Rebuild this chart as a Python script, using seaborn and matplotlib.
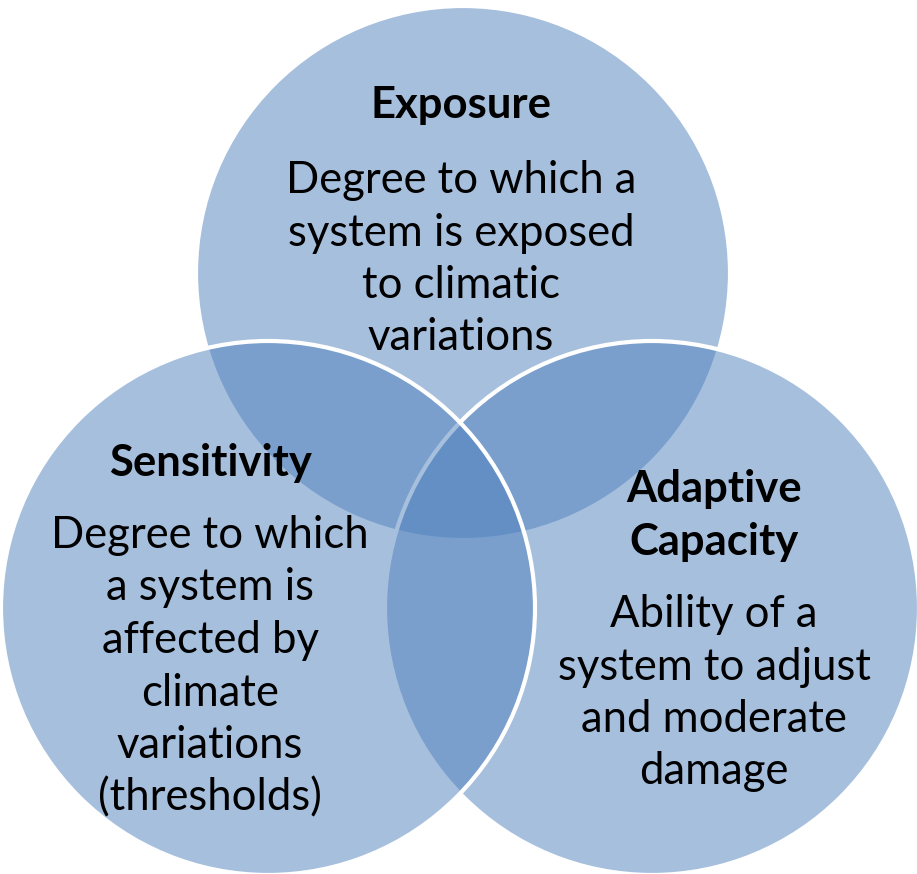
import matplotlib
matplotlib.use("Agg")
import matplotlib.pyplot as plt
from matplotlib.patches import Circle
import seaborn as sns

# Circle labels and descriptions (drawn top, right, left so the left edge sits on top)
titles = ["Exposure", "Adaptive\nCapacity", "Sensitivity"]
descriptions = [
    ["Degree to which a", "system is exposed", "to climatic", "variations"],
    ["Ability of a", "system to adjust", "and moderate", "damage"],
    ["Degree to which", "a system is", "affected by", "climate", "variations", "(thresholds)"],
]

centers = [(463, 273), (652, 608), (268, 608)]
radius = 267
title_baselines = [118, 502, 476]
body_baselines = [193, 627, 548]
text_x = [461, 714, 210]
line_step = 52.5

sns.set_theme(style="white")
plt.rcParams["font.family"] = ["Lato", "DejaVu Sans"]

fig = plt.figure(figsize=(9.17, 8.74), dpi=100)
ax = fig.add_axes([0, 0, 1, 1])
ax.set_xlim(0, 917)
ax.set_ylim(874, 0)
ax.axis("off")

fill = (79 / 255, 129 / 255, 189 / 255, 0.5)
for c in centers:
    ax.add_patch(Circle(c, radius, facecolor=fill, edgecolor="white", linewidth=3))

fs = 31.4
for i in range(3):
    for j, line in enumerate(titles[i].split("\n")):
        ax.text(text_x[i], title_baselines[i] + j * line_step, line, ha="center",
                va="baseline", fontsize=fs, fontweight="bold", color="black")
    for j, line in enumerate(descriptions[i]):
        ax.text(text_x[i], body_baselines[i] + j * line_step, line, ha="center",
                va="baseline", fontsize=fs, color="black")

fig.savefig("out.png", dpi=100)
